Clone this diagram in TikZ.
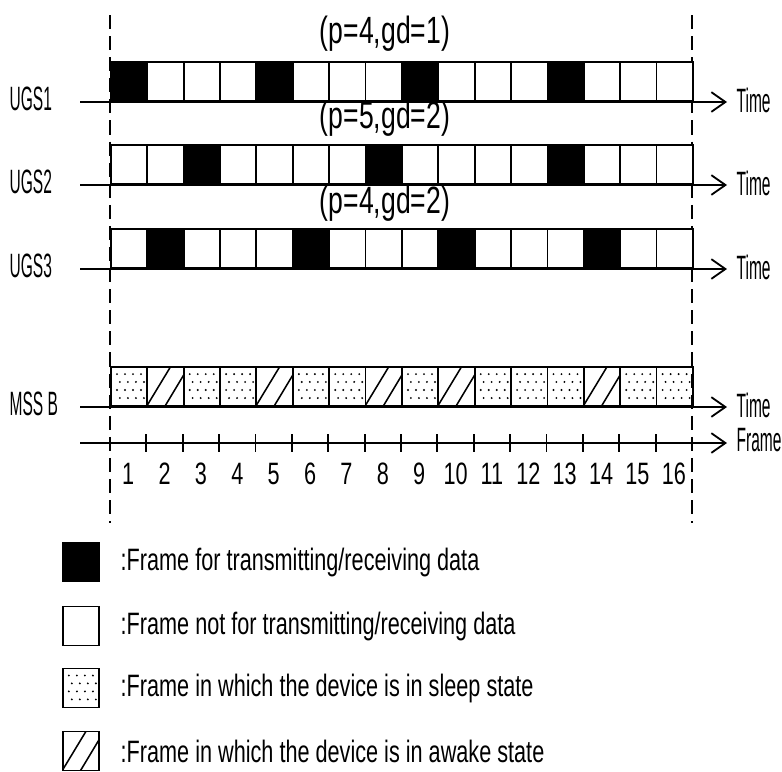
\documentclass[tikz,border=0pt]{standalone}
\usepackage{fontspec}
\setmainfont[FakeStretch=0.7]{Liberation Sans}
\newfontfamily\narrowfont[FakeStretch=0.46]{Liberation Sans}
\usetikzlibrary{arrows.meta}

\tikzset{
  frm/.style={draw, line width=1.3pt, minimum width=0.909cm, minimum height=0.975cm, inner sep=0pt, anchor=south west},
  tx/.style={frm, fill=black},
  idle/.style={frm, fill=white},
  sleep/.style={frm, path picture={
      \foreach \r/\o in {5/4.3, 10.6/6.4, 16.3/4.3, 22/6.4}
        \foreach \c in {0,5.7,11.4,17.1}
          \fill ([xshift=\o pt+\c pt, yshift=-\r pt]path picture bounding box.north west) circle (0.75pt);}},
  awake/.style={frm, path picture={
      \draw[line width=1.1pt] ([xshift=-1pt, yshift=-1pt]path picture bounding box.south west)
          -- ([xshift=17pt, yshift=1pt]path picture bounding box.north west);
      \draw[line width=1.1pt] ([xshift=12pt, yshift=-1pt]path picture bounding box.south west)
          -- ([xshift=1pt, yshift=-4pt]path picture bounding box.north east);}},
  timeaxis/.style={line width=1.3pt, -{Straight Barb[length=10pt,width=14pt,line width=1.3pt]}},
  guide/.style={line width=0.9pt, dash pattern=on 10pt off 5pt},
  lbl/.style={font=\fontsize{22}{24}\selectfont, inner sep=1pt},
  nlbl/.style={font=\narrowfont\fontsize{24}{26}\selectfont, inner sep=1pt},
  plbl/.style={font=\fontsize{27}{30}\selectfont, inner sep=1pt},
}

\begin{document}
\begin{tikzpicture}[x=0.025cm, y=-0.025cm]
    \useasboundingbox (0,0) rectangle (782,771);

    % --- guide lines ---
    \coordinate (ltop) at (110,15);  \coordinate (lbot) at (110,523);
    \coordinate (rtop) at (692,15);  \coordinate (rbot) at (692,523);
    \draw[guide] (ltop) -- (lbot);
    \draw[guide] (rtop) -- (rbot);

    % --- UGS1 ---
    \foreach \s [count=\i] in {tx,idle,idle,idle,tx,idle,idle,idle,tx,idle,idle,idle,tx,idle,idle,idle}
        \node[style=\s] (g1-\i) at ({110+(\i-1)*36.375},102) {};
    \coordinate (a1s) at (80,102); \coordinate (a1e) at (727,102);
    \draw[timeaxis] (a1s) -- (a1e);
    \node[nlbl, anchor=west] (t1) at (735,100) {Time};
    \node[nlbl, anchor=west] (n1) at (8,99) {UGS1};
    \node[plbl] (p1) at (385,34) {(p=4,gd=1)};

    % --- UGS2 ---
    \foreach \s [count=\i] in {idle,idle,tx,idle,idle,idle,idle,tx,idle,idle,idle,idle,tx,idle,idle,idle}
        \node[style=\s] (g2-\i) at ({110+(\i-1)*36.375},185) {};
    \coordinate (a2s) at (80,185); \coordinate (a2e) at (727,185);
    \draw[timeaxis] (a2s) -- (a2e);
    \node[nlbl, anchor=west] (t2) at (735,183) {Time};
    \node[nlbl, anchor=west] (n2) at (8,182) {UGS2};
    \node[plbl] (p2) at (385,119) {(p=5,gd=2)};

    % --- UGS3 ---
    \foreach \s [count=\i] in {idle,tx,idle,idle,idle,tx,idle,idle,idle,tx,idle,idle,idle,tx,idle,idle}
        \node[style=\s] (g3-\i) at ({110+(\i-1)*36.375},269) {};
    \coordinate (a3s) at (80,269); \coordinate (a3e) at (727,269);
    \draw[timeaxis] (a3s) -- (a3e);
    \node[nlbl, anchor=west] (t3) at (735,267) {Time};
    \node[nlbl, anchor=west] (n3) at (8,266) {UGS3};
    \node[plbl] (p3) at (385,204) {(p=4,gd=2)};

    % --- MSS B ---
    \foreach \s [count=\i] in {sleep,awake,sleep,sleep,awake,sleep,sleep,awake,sleep,awake,sleep,sleep,sleep,awake,sleep,sleep}
        \node[style=\s] (m-\i) at ({110+(\i-1)*36.375},407) {};
    \coordinate (a4s) at (80,407); \coordinate (a4e) at (727,407);
    \draw[timeaxis] (a4s) -- (a4e);
    \node[nlbl, anchor=west] (t4) at (735,405) {Time};
    \node[nlbl, anchor=west] (n4) at (8,404) {MSS B};

    % --- frame axis ---
    \coordinate (fs) at (80,443); \coordinate (fe) at (727,443);
    \draw[timeaxis] (fs) -- (fe);
    \node[nlbl, anchor=west] (t5) at (735,440) {Frame};
    \foreach \i in {1,...,15}
        \draw[line width=1.3pt] ({110+\i*36.375},434) -- ++(0,18);
    \foreach \i in {1,...,16}
        \node[lbl] (f\i) at ({110+(\i-0.5)*36.375},474) {\i};

    % --- legend ---
    \node[tx, anchor=center] (k1) at (81,562) {};
    \node[lbl, anchor=west] (k1t) at (119,562) {:Frame for transmitting/receiving data};
    \node[idle, anchor=center] (k2) at (81,626) {};
    \node[lbl, anchor=west] (k2t) at (119,626) {:Frame not for transmitting/receiving data};
    \node[sleep, anchor=center] (k3) at (81,688) {};
    \node[lbl, anchor=west] (k3t) at (119,688) {:Frame in which the device is in sleep state};
    \node[awake, anchor=center] (k4) at (81,751) {};
    \node[lbl, anchor=west] (k4t) at (119,751) {:Frame in which the device is in awake state};
\end{tikzpicture}
\end{document}
